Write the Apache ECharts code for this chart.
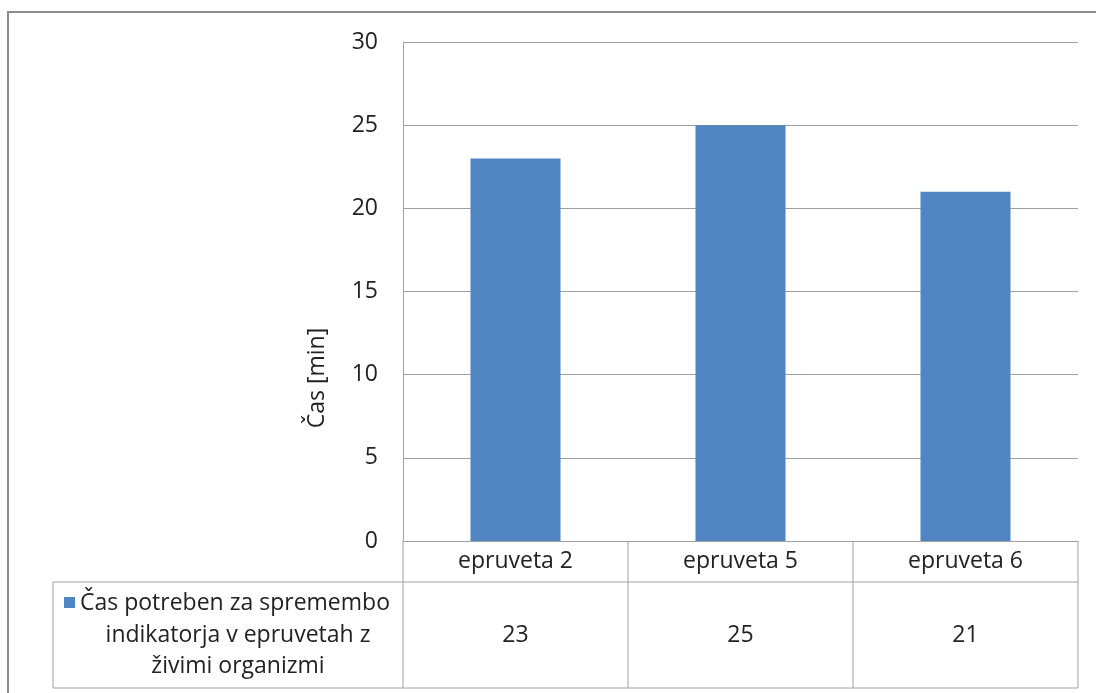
<!DOCTYPE html>
<html>
<head>
<meta charset="utf-8">
<script src="https://cdn.jsdelivr.net/npm/echarts/dist/echarts.min.js"></script>
<style>
  html, body { margin: 0; padding: 0; background: #ffffff; }
  #chart { width: 1096px; height: 693px; }
</style>
</head>
<body>
<div id="chart"></div>
<script>
// Chart data
const categories = ['epruveta 2', 'epruveta 5', 'epruveta 6'];
const values = [23, 25, 21];
const seriesName = 'Čas potreben za spremembo indikatorja v epruvetah z živimi organizmi';
const seriesNameLines = ['Čas potreben za spremembo', 'indikatorja v epruvetah z', 'živimi organizmi'];
const yTicks = [0, 5, 10, 15, 20, 25, 30];
const yAxisTitle = 'Čas [min]';

const FONT = '"Open Sans", sans-serif';
const TEXT = '#222222';
const LINE = '#a0a0a0';
const BAR = '#5085c1';

const chart = echarts.init(document.getElementById('chart'), null, { renderer: 'canvas' });

chart.setOption({
  animation: false,
  backgroundColor: '#ffffff',
  grid: { left: 403, top: 42, right: 18, bottom: 152, containLabel: false },
  xAxis: {
    type: 'category',
    data: categories,
    axisLine: { show: true, lineStyle: { color: LINE, width: 1 } },
    axisTick: { show: false },
    axisLabel: { show: false },
    splitLine: { show: false }
  },
  yAxis: {
    type: 'value',
    min: yTicks[0],
    max: yTicks[yTicks.length - 1],
    interval: yTicks[1] - yTicks[0],
    axisLine: { show: true, lineStyle: { color: LINE, width: 1 } },
    axisTick: { show: false },
    axisLabel: { margin: 25, fontFamily: FONT, fontSize: 23, color: TEXT },
    splitLine: { show: true, lineStyle: { color: LINE, width: 1 } }
  },
  series: [{
    name: seriesName,
    type: 'bar',
    data: values,
    barWidth: '40%',
    itemStyle: { color: BAR }
  }]
});

// Data table under the plot, laid out on the axis scales
function buildTable() {
  const c0 = chart.convertToPixel({ xAxisIndex: 0 }, 0);
  const c1 = chart.convertToPixel({ xAxisIndex: 0 }, 1);
  const band = c1 - c0;
  const top = chart.convertToPixel({ yAxisIndex: 0 }, yTicks[0]);
  const headerBottom = top + 41;
  const tableBottom = headerBottom + 106;
  const leftCell = 53;
  const firstEdge = c0 - band / 2;
  const lastEdge = c0 + band * (categories.length - 0.5);

  const els = [];
  const line = (x1, y1, x2, y2) => els.push({
    type: 'line', silent: true,
    shape: { x1, y1, x2, y2 },
    style: { stroke: LINE, lineWidth: 1 }
  });
  const text = (x, y, str, align) => els.push({
    type: 'text', silent: true,
    x, y,
    style: { text: str, fill: TEXT, font: '23px ' + FONT, align: align || 'center', verticalAlign: 'middle' }
  });

  // outer chart frame
  els.push({
    type: 'rect', silent: true,
    shape: { x: 8, y: 12, width: 1200, height: 800 },
    style: { fill: 'none', stroke: '#8c8c8c', lineWidth: 2 }
  });

  // horizontal rules
  line(leftCell, headerBottom, lastEdge, headerBottom);
  line(leftCell, tableBottom, lastEdge, tableBottom);
  // vertical rules
  line(leftCell, headerBottom, leftCell, tableBottom);
  for (let i = 0; i <= categories.length; i++) {
    const x = firstEdge + band * i;
    line(x, top, x, tableBottom);
  }

  // header row and value row
  categories.forEach((cat, i) => {
    const cx = chart.convertToPixel({ xAxisIndex: 0 }, i);
    text(cx, (top + headerBottom) / 2, cat);
    text(cx, (headerBottom + tableBottom) / 2, String(values[i]));
  });

  // series key and its name
  const midRow = (headerBottom + tableBottom) / 2;
  els.push({
    type: 'rect', silent: true,
    shape: { x: 64, y: midRow - 38, width: 11, height: 11 },
    style: { fill: BAR }
  });
  text(80, midRow - 32, seriesNameLines[0], 'left');
  text(238, midRow, seriesNameLines[1]);
  text(238, midRow + 31, seriesNameLines[2]);

  // y axis title
  els.push({
    type: 'text', silent: true,
    x: 317, y: 378, rotation: Math.PI / 2,
    style: { text: yAxisTitle, fill: TEXT, font: '23px ' + FONT, align: 'center', verticalAlign: 'middle' }
  });

  chart.setOption({ graphic: { elements: els } });
}
buildTable();
</script>
</body>
</html>
